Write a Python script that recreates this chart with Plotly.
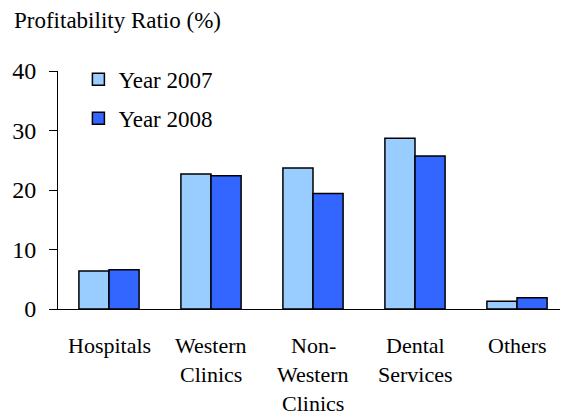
import plotly.graph_objects as go

categories = ["Hospitals", "Western Clinics", "Non-Western Clinics", "Dental Services", "Others"]
label_lines = [["Hospitals"], ["Western", "Clinics"], ["Non-", "Western", "Clinics"], ["Dental", "Services"], ["Others"]]
year2007 = [6.4, 22.7, 23.7, 28.7, 1.3]
year2008 = [6.6, 22.4, 19.4, 25.7, 1.9]
series_names = ["Year 2007", "Year 2008"]
colors = ["#99CCFF", "#3366FF"]
y_ticks = [0, 10, 20, 30, 40]

FONT = "Liberation Serif, Times New Roman, serif"

fig = go.Figure()
for i, (name, vals) in enumerate(zip(series_names, [year2007, year2008])):
    fig.add_trace(go.Bar(
        x=categories, y=vals, name=name, legendgroup=name,
        marker=dict(color=colors[i], line=dict(color="black", width=1.5)),
    ))

annotations = []
for cat, lines in zip(categories, label_lines):
    for j, line in enumerate(lines):
        annotations.append(dict(
            x=cat, y=0, xref="x", yref="y", text=line, showarrow=False,
            yshift=-(36 + 29 * j), font=dict(family=FONT, size=22, color="black"),
            xanchor="center", yanchor="middle"))
annotations.append(dict(
    x=0, y=1, xref="paper", yref="paper", xanchor="left", yanchor="middle",
    xshift=-46, yshift=51, text="Profitability Ratio (%)", showarrow=False,
    font=dict(family=FONT, size=23, color="black")))

fig.update_layout(
    width=560, height=409,
    margin=dict(l=50, r=0, t=63, b=108),
    paper_bgcolor="white", plot_bgcolor="white",
    barmode="group", bargap=0.41, bargroupgap=0,
    font=dict(family=FONT, color="black"),
    showlegend=True,
    legend=dict(x=0.04, y=1.055, xanchor="left", yanchor="top",
                font=dict(family=FONT, size=23, color="black"),
                traceorder="grouped", tracegroupgap=6,
                bgcolor="rgba(0,0,0,0)"),
    annotations=annotations,
    xaxis=dict(showticklabels=False, ticks="", showline=True, linecolor="black",
               linewidth=1, showgrid=False, zeroline=False),
    yaxis=dict(range=[0, 40], tickvals=y_ticks, ticks="outside", ticklen=8,
               tickcolor="black", showline=True, linecolor="black", linewidth=1,
               showgrid=False, zeroline=False, ticklabelstandoff=8,
               tickfont=dict(family=FONT, size=24, color="black")),
)

fig.write_html("out.html")
